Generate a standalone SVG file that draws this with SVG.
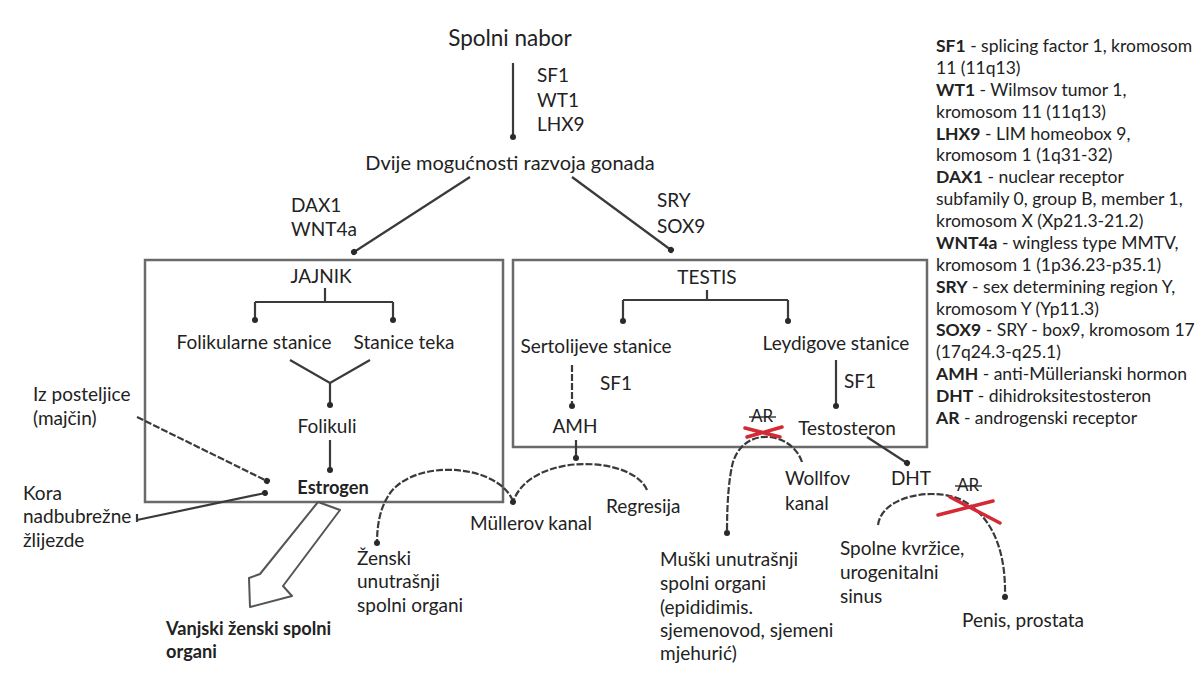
<svg xmlns="http://www.w3.org/2000/svg" width="1199" height="675" viewBox="0 0 1199 675">
<defs>
<marker id="dot" markerUnits="userSpaceOnUse" markerWidth="8" markerHeight="8" refX="4" refY="4" orient="auto">
<circle cx="4" cy="4" r="3" fill="#2a2a2a"/>
</marker>
<style>
.t{font-family:Lato,"Open Sans","Liberation Sans",sans-serif;fill:#222;font-size:19px}
.ttl{font-size:22.5px}
.dv{font-size:20px}
.b{font-weight:bold;font-size:18.2px}
.lg{font-size:17.5px}
.lg .b{font-size:17.5px}
.ln{fill:none;stroke:#3a3a3a;stroke-width:2.2}
.ar{marker-end:url(#dot)}
.dash{stroke-dasharray:7 2}
.box{fill:none;stroke:#6a6a6a;stroke-width:2.5}
.x{stroke:#d42a35;stroke-width:3.5;stroke-linecap:round;fill:none}
.strike{stroke:#222;stroke-width:1.3}
</style>
</defs>
<rect width="1199" height="675" fill="#fff"/>

<g id="boxes">
<rect id="ovary-box" class="box" x="145" y="260" width="358" height="242"/>
<rect id="testis-box" class="box" x="513" y="260" width="414" height="187"/>
</g>

<g id="connectors">
<line class="ln ar" x1="513" y1="63" x2="513" y2="137"/>
<line class="ln ar" x1="470" y1="177" x2="354" y2="252"/>
<line class="ln ar" x1="572" y1="177" x2="671" y2="250"/>
<path class="ln" d="M325,288 V302 M255,302 H393"/>
<line class="ln ar" x1="255" y1="302" x2="255" y2="320"/>
<line class="ln ar" x1="393" y1="302" x2="393" y2="320"/>
<path class="ln" d="M290,360 L330,383 L370,360"/>
<line class="ln ar" x1="330" y1="383" x2="330" y2="405"/>
<line class="ln ar" x1="330" y1="440" x2="330" y2="470"/>
<line class="ln ar dash" x1="137" y1="417" x2="267" y2="481"/>
<line class="ln ar" x1="137" y1="520" x2="265" y2="493"/>
<line class="ln" x1="137" y1="514" x2="137" y2="522"/>
<polygon fill="#fff" stroke="#555" stroke-width="2" stroke-linejoin="round" points="318,502 340,510 283,586 292,596 250,607 249,578 260,574"/>
<path class="ln ar dash" d="M513,501 C497,462 408,458 387,498 Q377,515 377,543"/>
<path class="ln" d="M707,290 V300 M623,300 H788"/>
<line class="ln ar" x1="623" y1="300" x2="623" y2="321"/>
<line class="ln ar" x1="788" y1="300" x2="788" y2="321"/>
<line class="ln ar dash" x1="572" y1="365" x2="572" y2="406"/>
<line class="ln ar" x1="836" y1="360" x2="836" y2="406"/>
<line class="ln ar" x1="576" y1="440" x2="576" y2="458"/>
<path class="ln ar dash" d="M647,490 C632,455 530,452 513,502"/>
<path class="ln ar dash" d="M802,462 C792,432 745,425 733,462 Q727,485 727,533"/>
<line class="ln ar" x1="867" y1="437" x2="907" y2="463"/>
<path class="ln ar dash" d="M878,525 C882,495 935,487 962,500 C995,518 1006,555 1005,597"/>
</g>

<g id="crosses">
<path class="x" d="M745,428 L780,437 M747,437 L782,427"/>
<path class="x" d="M938,515 L993,501 M950,497 L1000,523"/>
</g>

<g id="nodes">
<g id="spolni-nabor"><text class="t ttl" x="510" y="46" text-anchor="middle">Spolni nabor</text></g>
<g id="lbl-sf1-wt1-lhx9">
<text class="t" x="537" y="82">SF1</text>
<text class="t" x="537" y="107">WT1</text>
<text class="t" x="537" y="131">LHX9</text>
</g>
<g id="dvije"><text class="t dv" x="510" y="170" text-anchor="middle">Dvije mogućnosti razvoja gonada</text></g>
<g id="lbl-dax1"><text class="t" x="291" y="212">DAX1</text><text class="t" x="291" y="236">WNT4a</text></g>
<g id="lbl-sry"><text class="t" x="657" y="207">SRY</text><text class="t" x="657" y="233">SOX9</text></g>
<g id="jajnik"><text class="t" x="321" y="283" text-anchor="middle">JAJNIK</text></g>
<g id="folikularne"><text class="t" x="254" y="349" text-anchor="middle">Folikularne stanice</text></g>
<g id="teka"><text class="t" x="404" y="349" text-anchor="middle">Stanice teka</text></g>
<g id="folikuli"><text class="t" x="327" y="433" text-anchor="middle">Folikuli</text></g>
<g id="estrogen"><text class="t b" x="333" y="494" text-anchor="middle">Estrogen</text></g>
<g id="posteljica"><text class="t" x="33" y="401">Iz posteljice</text><text class="t" x="33" y="425">(majčin)</text></g>
<g id="kora"><text class="t" x="23" y="500">Kora</text><text class="t" x="23" y="523">nadbubrežne</text><text class="t" x="23" y="547">žlijezde</text></g>
<g id="vanjski"><text class="t b" x="166" y="635">Vanjski ženski spolni</text><text class="t b" x="166" y="658">organi</text></g>
<g id="zenski"><text class="t" x="357" y="565">Ženski</text><text class="t" x="357" y="588">unutrašnji</text><text class="t" x="357" y="612">spolni organi</text></g>
<g id="mullerov"><text class="t" x="531" y="530" text-anchor="middle">Müllerov kanal</text></g>
<g id="regresija"><text class="t" x="606" y="513">Regresija</text></g>
<g id="testis"><text class="t" x="707" y="284" text-anchor="middle">TESTIS</text></g>
<g id="sertoli"><text class="t" x="596" y="353" text-anchor="middle">Sertolijeve stanice</text></g>
<g id="leydig"><text class="t" x="836" y="350" text-anchor="middle">Leydigove stanice</text></g>
<g id="lbl-sf1-a"><text class="t" x="600" y="390">SF1</text></g>
<g id="lbl-sf1-b"><text class="t" x="844" y="388">SF1</text></g>
<g id="amh"><text class="t" x="575" y="433" text-anchor="middle">AMH</text></g>
<g id="testosteron"><text class="t" x="847" y="435" text-anchor="middle">Testosteron</text></g>
<g id="ar1"><text class="t" x="762" y="422" text-anchor="middle" style="font-size:17px">AR</text><line class="strike" x1="749" y1="417" x2="776" y2="417"/></g>
<g id="wollfov"><text class="t" x="785" y="485">Wollfov</text><text class="t" x="785" y="510">kanal</text></g>
<g id="dht"><text class="t" x="911" y="485" text-anchor="middle">DHT</text></g>
<g id="ar2"><text class="t" x="968" y="491" text-anchor="middle" style="font-size:17px">AR</text><line class="strike" x1="955" y1="486" x2="982" y2="486"/></g>
<g id="muski"><text class="t" x="660" y="566">Muški unutrašnji</text><text class="t" x="660" y="590">spolni organi</text><text class="t" x="660" y="614">(epididimis.</text><text class="t" x="660" y="637">sjemenovod, sjemeni</text><text class="t" x="660" y="660">mjehurić)</text></g>
<g id="spolne-kvrzice"><text class="t" x="840" y="555">Spolne kvržice,</text><text class="t" x="840" y="579">urogenitalni</text><text class="t" x="840" y="603">sinus</text></g>
<g id="penis"><text class="t" x="962" y="627">Penis, prostata</text></g>
</g>

<g id="legend" class="t lg">
<text x="936" y="52"><tspan class="b">SF1</tspan> - splicing factor 1, kromosom</text>
<text x="936" y="74">11 (11q13)</text>
<text x="936" y="96"><tspan class="b">WT1</tspan> - Wilmsov tumor 1,</text>
<text x="936" y="118">kromosom 11 (11q13)</text>
<text x="936" y="140"><tspan class="b">LHX9</tspan> - LIM homeobox 9,</text>
<text x="936" y="161">kromosom 1 (1q31-32)</text>
<text x="936" y="183"><tspan class="b">DAX1</tspan> - nuclear receptor</text>
<text x="936" y="205">subfamily 0, group B, member 1,</text>
<text x="936" y="227">kromosom X (Xp21.3-21.2)</text>
<text x="936" y="249"><tspan class="b">WNT4a</tspan> - wingless type MMTV,</text>
<text x="936" y="271">kromosom 1 (1p36.23-p35.1)</text>
<text x="936" y="293"><tspan class="b">SRY</tspan> - sex determining region Y,</text>
<text x="936" y="315">kromosom Y (Yp11.3)</text>
<text x="936" y="336"><tspan class="b">SOX9</tspan> - SRY - box9, kromosom 17</text>
<text x="936" y="358">(17q24.3-q25.1)</text>
<text x="936" y="380"><tspan class="b">AMH</tspan> - anti-Müllerianski hormon</text>
<text x="936" y="402"><tspan class="b">DHT</tspan> - dihidroksitestosteron</text>
<text x="936" y="424"><tspan class="b">AR</tspan> - androgenski receptor</text>
</g>
</svg>
